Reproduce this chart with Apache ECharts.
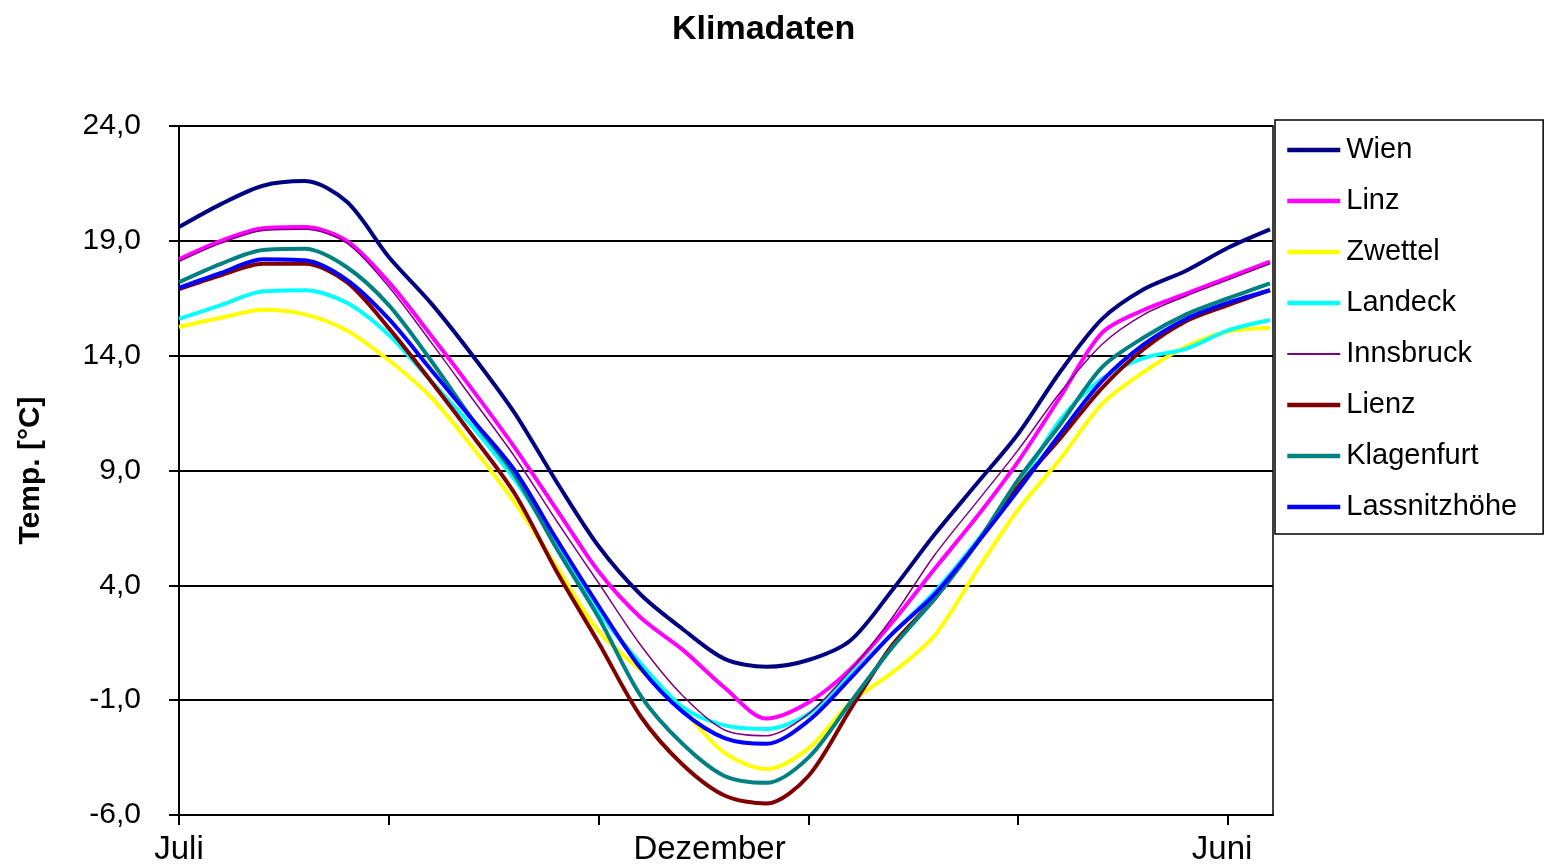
<!DOCTYPE html>
<html>
<head>
<meta charset="utf-8">
<title>Klimadaten</title>
<script src="https://cdn.jsdelivr.net/npm/echarts@6/dist/echarts.min.js"></script>
<style>
  html, body { margin: 0; padding: 0; background: #fff; }
  #myChart { width: 1545px; height: 866px; }
</style>
</head>
<body>
<div id="myChart"></div>
<script>
// day of year counted from 1 July
const days = [0, 14, 28, 42, 56, 70, 84, 98, 112, 126, 140, 154, 168, 182, 196, 210, 224, 238, 252, 266, 280, 294, 308, 322, 336, 350, 364];

const wien       = [19.6, 20.6, 21.4, 21.6, 20.7, 18.3, 16.3, 14.0, 11.5, 8.5, 5.7, 3.6, 2.1, 0.8, 0.45, 0.75, 1.6, 3.8, 6.2, 8.4, 10.6, 13.3, 15.6, 16.9, 17.7, 18.7, 19.5];
const linz       = [18.2, 19.0, 19.55, 19.6, 19.0, 17.2, 14.9, 12.5, 10.0, 7.3, 4.6, 2.6, 1.2, -0.45, -1.8, -1.1, 0.35, 2.4, 4.7, 6.95, 9.4, 12.2, 15.0, 16.0, 16.7, 17.4, 18.1];
const zwettel    = [15.25, 15.65, 16.0, 15.8, 15.1, 13.8, 12.2, 10.0, 7.6, 4.8, 2.0, 0.3, -1.4, -3.3, -4.0, -3.1, -1.1, 0.2, 1.8, 4.6, 7.3, 9.5, 11.9, 13.3, 14.4, 15.05, 15.2];
const landeck    = [15.6, 16.2, 16.8, 16.85, 16.3, 14.9, 12.9, 10.9, 8.6, 5.8, 2.85, 0.6, -1.3, -2.1, -2.25, -1.6, 0.1, 1.9, 3.7, 5.9, 8.3, 11.2, 13.0, 13.9, 14.3, 15.1, 15.55];
const innsbruck  = [18.1, 18.9, 19.45, 19.5, 18.9, 17.0, 14.6, 12.1, 9.6, 6.8, 4.1, 1.4, -0.8, -2.3, -2.55, -1.6, 0.3, 2.6, 5.3, 7.6, 9.9, 12.4, 14.5, 15.8, 16.6, 17.3, 18.0];
const lienz      = [16.9, 17.5, 18.0, 18.0, 17.2, 15.2, 12.9, 10.5, 8.0, 4.6, 1.5, -1.7, -3.8, -5.15, -5.5, -4.3, -1.4, 1.4, 3.4, 5.8, 8.3, 10.4, 12.6, 14.3, 15.5, 16.2, 16.85];
const klagenfurt = [17.2, 18.0, 18.6, 18.65, 17.85, 16.2, 13.8, 11.2, 8.8, 5.6, 2.6, -0.8, -2.9, -4.3, -4.6, -3.5, -1.1, 1.3, 3.4, 5.8, 8.6, 11.0, 13.5, 14.8, 15.8, 16.5, 17.15];
const lassnitz   = [16.95, 17.6, 18.2, 18.15, 17.3, 15.6, 13.4, 11.2, 9.0, 6.0, 3.1, 0.4, -1.5, -2.65, -2.9, -1.9, -0.05, 1.9, 3.6, 5.8, 8.15, 10.6, 12.9, 14.5, 15.6, 16.3, 16.85];

const tickDays = [0, 70, 140, 210, 280, 350];
const labelDays = [0, 177, 348];
const monthLabels = ['Juli', 'Dezember', 'Juni'];

var chartDom = document.getElementById('myChart');
var myChart = echarts.init(chartDom);
var option;

const font = "'Liberation Sans', Arial, sans-serif";

const stations = [
    { name: 'Wien', values: wien, color: '#000080', width: 4 },
    { name: 'Linz', values: linz, color: '#FF00FF', width: 4 },
    { name: 'Zwettel', values: zwettel, color: '#FFFF00', width: 4 },
    { name: 'Landeck', values: landeck, color: '#00FFFF', width: 4 },
    { name: 'Innsbruck', values: innsbruck, color: '#800080', width: 1.5 },
    { name: 'Lienz', values: lienz, color: '#800000', width: 4 },
    { name: 'Klagenfurt', values: klagenfurt, color: '#008080', width: 4 },
    { name: 'Lassnitzhöhe', values: lassnitz, color: '#0000FF', width: 4 }
];

option = {
    animation: false,
    backgroundColor: '#fff',
    title: {
        text: 'Klimadaten',
        left: 667,
        top: 8,
        textStyle: { fontFamily: font, fontSize: 34, fontWeight: 'bold', color: '#000' }
    },
    legend: {
        orient: 'vertical',
        left: 1275,
        top: 120,
        padding: [15, 26, 12, 10],
        borderColor: '#000',
        borderWidth: 1.5,
        itemWidth: 53,
        itemHeight: 10,
        itemGap: 21,
        itemStyle: { opacity: 0, borderWidth: 0 },
        textStyle: { fontFamily: font, fontSize: 29, lineHeight: 30, color: '#000', padding: [0, 0, 0, 1] },
        data: stations.map(s => ({
            name: s.name,
            lineStyle: { color: s.color, width: s.width < 2 ? 2 : 4.5 }
        }))
    },
    grid: {
        left: 179,
        right: 272,
        top: 126,
        bottom: 51,
        show: true,
        borderColor: '#000',
        borderWidth: 1.5
    },
    xAxis: {
        type: 'value',
        min: 0,
        max: 365,
        axisLine: { onZero: false, lineStyle: { color: '#000', width: 2 } },
        axisTick: { customValues: tickDays, length: 10, lineStyle: { color: '#000', width: 2 } },
        splitLine: { show: false },
        axisLabel: {
            customValues: labelDays,
            margin: 18,
            fontFamily: font,
            fontSize: 33,
            color: '#000',
            formatter: function (v) {
                const i = labelDays.indexOf(v);
                return i >= 0 ? monthLabels[i] : '';
            }
        }
    },
    yAxis: {
        type: 'value',
        min: -6,
        max: 24,
        interval: 5,
        name: 'Temp. [°C]',
        nameLocation: 'middle',
        nameRotate: 90,
        nameGap: 133,
        nameTextStyle: { fontFamily: font, fontSize: 30, fontWeight: 'bold', color: '#000' },
        axisLine: { show: true, lineStyle: { color: '#000', width: 2 } },
        axisTick: { show: true, length: 10, lineStyle: { color: '#000', width: 2 } },
        splitLine: { lineStyle: { color: '#000', width: 2 } },
        axisLabel: {
            margin: 38,
            fontFamily: font,
            fontSize: 30,
            color: '#000',
            formatter: function (v) { return v.toFixed(1).replace('.', ','); }
        }
    },
    series: stations.map(s => ({
        name: s.name,
        type: 'line',
        symbol: 'none',
        smooth: 0.3,
        color: s.color,
        lineStyle: { color: s.color, width: s.width },
        data: days.map((d, i) => [d, s.values[i]])
    }))
};

option && myChart.setOption(option);
</script>
</body>
</html>
